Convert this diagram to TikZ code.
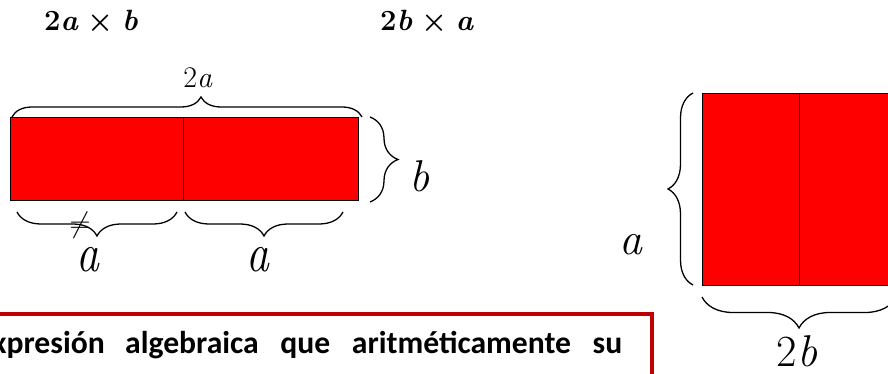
\documentclass[tikz,border=0pt]{standalone}
\usepackage{amsmath}
\usepackage{fontspec}
\newfontfamily\calib{Carlito}
\usepackage{graphicx}
\usetikzlibrary{decorations.pathreplacing}
\definecolor{boxred}{HTML}{C00000}

\begin{document}
\begin{tikzpicture}[x=0.03cm, y=-0.03cm,
  bar/.style={fill=red, draw=black, line width=0.8pt},
  curly/.style={decorate, line width=1.1pt, decoration={brace, amplitude=#1}},
  big/.style={font=\rmfamily\fontsize{#1}{#1}\selectfont},
  title/.style={font=\rmfamily\bfseries\boldmath\fontsize{25}{25}\selectfont},
  expl/.style={anchor=base, inner sep=0pt, font=\calib\bfseries\fontsize{27}{32}\selectfont}]
  \useasboundingbox (0,0) rectangle (888,374);
  \clip (0,0) rectangle (888,374);
  % titles
  \node[title] (prodA) at (91,22) {2\textit{a}\hspace{0.3em}$\times$\hspace{0.3em}\textit{b}};
  \node[title] (prodB) at (427,22) {2\textit{b}\hspace{0.3em}$\times$\hspace{0.3em}\textit{a}};
  % strip 2a x b
  \draw[bar] (10,117) rectangle (183,200);
  \draw[bar] (183,117) rectangle (358,200);
  \draw[curly=0.6cm, decoration={aspect=0.54}] (12,117) -- (362,117);
  \node[anchor=base, big=25.6] (topA) at (198,88) {2\textit{a}};
  \draw[curly=0.84cm] (370,117) -- (370,202);
  \node[anchor=base, big=38] (sideB) at (420,192) {\textit{b}};
  \draw[curly=0.72cm] (177,212) -- (17,212);
  \draw[curly=0.72cm] (343,212) -- (185,212);
  \node[big=30, inner sep=0pt] (neq) at (80,225) {$\neq$};
  \node[anchor=base, big=39] (lowA) at (88,272) {\scalebox{1}[1.2]{\textit{a}}};
  \node[anchor=base, big=39] (lowB) at (258,272) {\scalebox{1}[1.2]{\textit{a}}};
  % strip 2b x a
  \draw[bar] (702,93) rectangle (799,285);
  \draw[bar] (799,93) rectangle (896,285);
  \draw[curly=0.75cm] (693,285) -- (693,93);
  \node[anchor=base, big=39] (sideA) at (631,255) {\textit{a}};
  \draw[curly=0.93cm] (896,297) -- (702,297);
  \node[anchor=base, big=38] (low2b) at (797,367) {2\textit{b}};
  % text box
  \draw[boxred, line width=3.2pt] (-40,314) rectangle (652,430);
  \node[expl, anchor=base east] (exprA) at (105,354) {Expresión};
  \node[expl, anchor=base west] (exprB) at (125,354)
    {\makebox[14.91cm][s]{algebraica que aritméticamente su}};
\end{tikzpicture}
\end{document}
